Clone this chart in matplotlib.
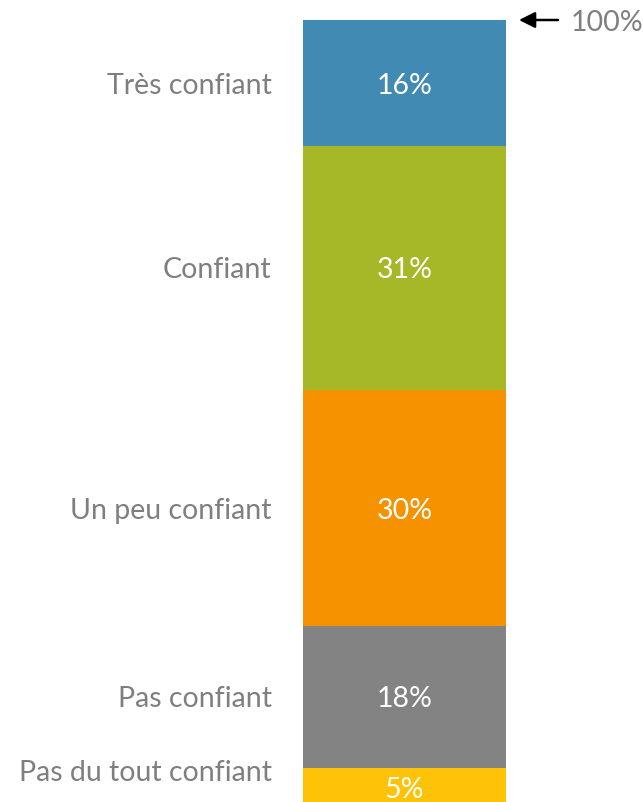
import matplotlib.pyplot as plt
import numpy as np

categories = ['Pas du tout confiant', 'Pas confiant', 'Un peu confiant', 'Confiant', 'Très confiant']
values = [5, 18, 30, 31, 16]
colors = ['#FEC306', '#838383', '#F69200', '#A6B727', '#418AB3']
value_labels = ['5%', '18%', '30%', '31%', '16%']
total_label = '100%'

plt.rcParams['font.family'] = ['Lato', 'DejaVu Sans']
text_grey = '#7F7F7F'

W, H = 643, 803
fig = plt.figure(figsize=(W / 100, H / 100), dpi=100)

# bar occupies x 303..506 px, y 21..808 px (bottom slightly cropped)
ax = fig.add_axes([303 / W, (H - 808) / H, (506 - 303) / W, (808 - 21) / H])
ax.set_xlim(0, 1)
ax.set_ylim(0, sum(values))
ax.axis('off')

bottoms = np.concatenate([[0], np.cumsum(values)[:-1]])
for v, b, c, lab in zip(values, bottoms, colors, value_labels):
    ax.bar(0.5, v, width=1, bottom=b, color=c, linewidth=0)
    ax.text(0.5, b + v / 2 - 0.2, lab, ha='center', va='center', color='white', fontsize=20.5)

# category labels left of the bar; the thin bottom one is lifted a little
for cat, v, b in zip(categories, values, bottoms):
    y = max(b + v / 2, 4.7) - 0.2
    ax.text(-0.155, y, cat, ha='right', va='center', color=text_grey, fontsize=20.5, clip_on=False)

# arrow pointing at the top of the bar
top = sum(values)
ax.annotate('', xy=(1.05, top), xytext=(1.27, top),
            arrowprops=dict(arrowstyle='-|>', color='black', lw=1.8, mutation_scale=24),
            annotation_clip=False)
ax.text(1.32, top - 0.2, total_label, ha='left', va='center', color=text_grey, fontsize=20.5, clip_on=False)

fig.savefig('out.png', dpi=100)
